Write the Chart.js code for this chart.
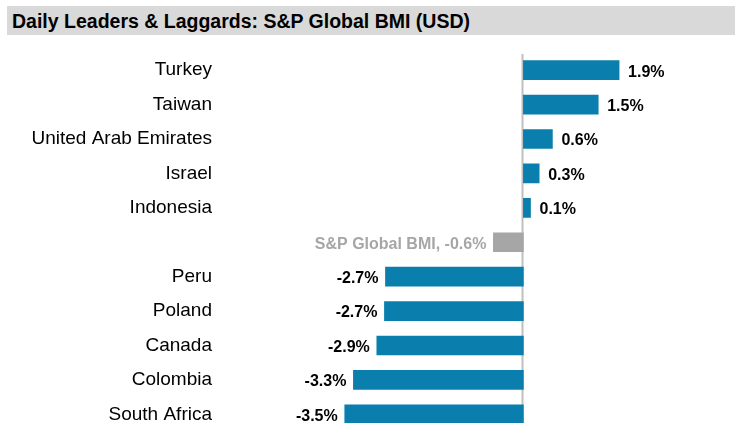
<!DOCTYPE html>
<html>
<head>
<meta charset="utf-8">
<script src="https://cdn.jsdelivr.net/npm/chart.js@4"></script>
<style>
  html, body { margin: 0; padding: 0; background: #fff; overflow: hidden; }
  #wrap { position: relative; width: 735px; height: 450px; }
  #title {
    position: absolute; left: 7px; top: 6px; width: 728px; height: 29px;
    background: #d9d9d9; color: #000;
    font: bold 19.5px "Liberation Sans", Arial, sans-serif;
    line-height: 31px; padding-left: 5px; box-sizing: border-box; white-space: nowrap;
  }
  #leadersChart { position: absolute; left: 0; top: 0; }
</style>
</head>
<body>
<div id="wrap">
  <canvas id="leadersChart" width="735" height="450"></canvas>
  <div id="title">Daily Leaders &amp; Laggards: S&amp;P Global BMI (USD)</div>
</div>
<script>
const countries = ['Turkey', 'Taiwan', 'United Arab Emirates', 'Israel', 'Indonesia', '',
                   'Peru', 'Poland', 'Canada', 'Colombia', 'South Africa'];
const returns = [1.88, 1.47, 0.57, 0.31, 0.14, -0.59, -2.71, -2.73, -2.88, -3.34, -3.51];
const benchmarkIndex = 5;
const benchmarkName = 'S&P Global BMI';

const barColors = returns.map((v, i) => i === benchmarkIndex ? '#a6a6a6' : '#0a7fae');

// zero line + value labels
const valueLabels = {
    id: 'valueLabels',
    beforeDatasetsDraw(chart) {
        const { ctx, scales: { x } } = chart;
        const zx = Math.round(x.getPixelForValue(0)) - 0.5;
        ctx.save();
        ctx.strokeStyle = '#bfbfbf';
        ctx.lineWidth = 2;
        ctx.beginPath();
        ctx.moveTo(zx, 54);
        ctx.lineTo(zx, chart.height);
        ctx.stroke();
        ctx.restore();
    },
    afterDatasetsDraw(chart) {
        const { ctx } = chart;
        const meta = chart.getDatasetMeta(0);
        ctx.save();
        ctx.font = 'bold 16px "Liberation Sans", Arial, sans-serif';
        ctx.textBaseline = 'middle';
        meta.data.forEach((bar, i) => {
            const v = returns[i];
            let txt = v.toFixed(1) + '%';
            ctx.fillStyle = '#000';
            if (i === benchmarkIndex) {
                txt = benchmarkName + ', ' + txt;
                ctx.fillStyle = '#a6a6a6';
            }
            if (v >= 0) {
                ctx.textAlign = 'left';
                ctx.fillText(txt, bar.x + 9, bar.y + 2);
            } else {
                ctx.textAlign = 'right';
                ctx.fillText(txt, bar.x - 7, bar.y + 2);
            }
        });
        ctx.restore();
    }
};

new Chart(document.getElementById('leadersChart'), {
    type: 'bar',
    data: {
        labels: countries,
        datasets: [{
            data: returns,
            backgroundColor: barColors,
            borderWidth: 0,
            barThickness: 19
        }]
    },
    options: {
        indexAxis: 'y',
        responsive: false,
        animation: false,
        layout: { padding: { top: 53, bottom: 18.5, left: 0, right: 8 } },
        plugins: {
            legend: { display: false },
            tooltip: { enabled: false }
        },
        scales: {
            x: {
                display: false,
                min: -6,
                max: 4
            },
            y: {
                afterFit(scale) { scale.width = 218; },
                grid: { display: false, drawTicks: false },
                border: { display: false },
                ticks: {
                    color: '#000',
                    padding: 6,
                    font: { family: '"Liberation Sans", Arial, sans-serif', size: 19 }
                }
            }
        }
    },
    plugins: [valueLabels]
});
</script>
</body>
</html>
